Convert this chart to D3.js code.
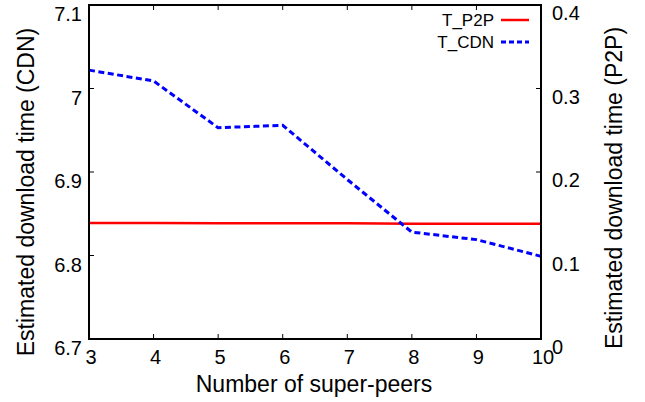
<!DOCTYPE html>
<html><head><meta charset="utf-8">
<script src="https://cdn.jsdelivr.net/npm/d3@7"></script>
<style>body{margin:0;background:#fff}svg{display:block}text{font-family:"Liberation Sans",Arial,sans-serif;fill:#000}</style>
</head><body><svg id="c" width="645" height="402"></svg>
<script>
const superPeers = [3, 4, 5, 6, 7, 8, 9, 10];
const tCDN = [7.022, 7.009, 6.953, 6.956, 6.891, 6.828, 6.819, 6.799];
const tP2P = [0.139, 0.139, 0.1385, 0.1385, 0.1385, 0.138, 0.138, 0.138];
const xTicks = [3, 4, 5, 6, 7, 8, 9, 10];
const yLeftTicks = [6.7, 6.8, 6.9, 7, 7.1];
const yRightTicks = [0, 0.1, 0.2, 0.3, 0.4];
const seriesNames = ["T_P2P", "T_CDN"];

const svg = d3.select("#c");
const L = 89, R = 541, T = 5, B = 339;
const x = d3.scaleLinear().domain([3, 10]).range([L, R]);
const yL = d3.scaleLinear().domain([6.7, 7.1]).range([B, T]);
const yR = d3.scaleLinear().domain([0, 0.4]).range([B, T]);

// ticks (inward)
const tk = 5;
const g = svg.append("g").attr("stroke", "#000").attr("stroke-width", 1);
xTicks.forEach(v => {
  g.append("line").attr("x1", x(v)).attr("x2", x(v)).attr("y1", B).attr("y2", B - tk);
  g.append("line").attr("x1", x(v)).attr("x2", x(v)).attr("y1", T).attr("y2", T + tk);
});
yLeftTicks.forEach(v => {
  g.append("line").attr("x1", L).attr("x2", L + tk).attr("y1", yL(v)).attr("y2", yL(v));
});
yRightTicks.forEach(v => {
  g.append("line").attr("x1", R).attr("x2", R - tk).attr("y1", yR(v)).attr("y2", yR(v));
});

// tick labels
const fmt = d3.format("");
xTicks.forEach(v => {
  svg.append("text").attr("x", x(v) + 2).attr("y", B + 25).attr("text-anchor", "middle")
    .attr("font-size", 20).text(fmt(v));
});
yLeftTicks.forEach(v => {
  svg.append("text").attr("x", 82).attr("y", yL(v) + 16).attr("text-anchor", "end")
    .attr("font-size", 20).text(fmt(v));
});
yRightTicks.forEach(v => {
  svg.append("text").attr("x", 552).attr("y", yR(v) + 15).attr("text-anchor", "start")
    .attr("font-size", 20).text(fmt(v));
});

// lines
const lineCDN = d3.line().x((d, i) => x(superPeers[i])).y(d => yL(d));
const lineP2P = d3.line().x((d, i) => x(superPeers[i])).y(d => yR(d));
svg.append("path").attr("d", lineP2P(tP2P)).attr("fill", "none").attr("stroke", "#ff0000").attr("stroke-width", 2.5);
svg.append("path").attr("d", lineCDN(tCDN)).attr("fill", "none").attr("stroke", "#0000ff").attr("stroke-width", 3).attr("stroke-dasharray", "6,3.5");

// frame
svg.append("rect").attr("x", L).attr("y", T).attr("width", R - L).attr("height", B - T)
  .attr("fill", "none").attr("stroke", "#000").attr("stroke-width", 2);

// legend
const legY = [20, 42];
const legStroke = [{c: "#ff0000", d: null, w: 2.5}, {c: "#0000ff", d: "5,3", w: 3}];
seriesNames.forEach((n, i) => {
  svg.append("text").attr("x", 494).attr("y", legY[i] + 6).attr("text-anchor", "end").attr("font-size", 17).text(n);
  svg.append("line").attr("x1", 501).attr("x2", 529).attr("y1", legY[i]).attr("y2", legY[i])
    .attr("stroke", legStroke[i].c).attr("stroke-width", legStroke[i].w).attr("stroke-dasharray", legStroke[i].d);
});

// axis titles
svg.append("text").attr("x", 314).attr("y", 392).attr("text-anchor", "middle").attr("font-size", 23).text("Number of super-peers");
svg.append("text").attr("transform", "translate(34,192) rotate(-90)").attr("text-anchor", "middle").attr("font-size", 23).text("Estimated download time (CDN)");
svg.append("text").attr("transform", "translate(622,188) rotate(-90)").attr("text-anchor", "middle").attr("font-size", 23).text("Estimated download time (P2P)");
</script></body></html>
